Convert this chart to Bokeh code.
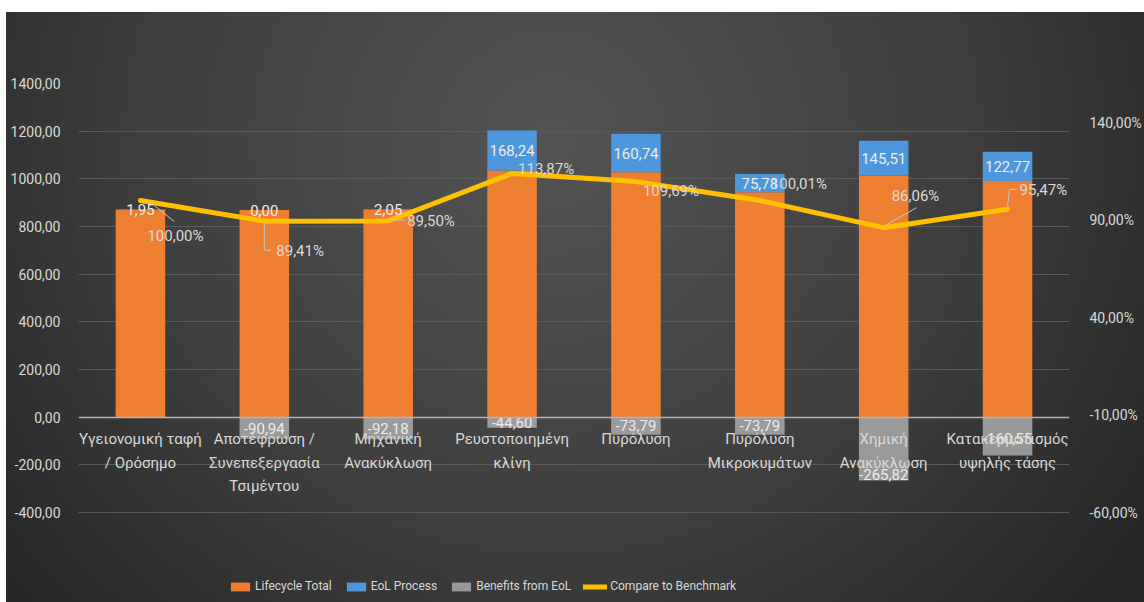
from bokeh.plotting import figure
from bokeh.models import (FactorRange, Range1d, LinearAxis, FixedTicker,
                          CustomJSTickFormatter, ColumnDataSource, Legend, LegendItem)
from bokeh.core.properties import value
from bokeh.embed import file_html
from bokeh.resources import INLINE

# ---- data -------------------------------------------------------------
categories = [
    "Υγειονομική ταφή\n/ Ορόσημο",
    "Αποτέφρωση /\nΣυνεπεξεργασία\nΤσιμέντου",
    "Μηχανική\nΑνακύκλωση",
    "Ρευστοποιημένη\nκλίνη",
    "Πυρόλυση",
    "Πυρόλυση\nΜικροκυμάτων",
    "Χημική\nΑνακύκλωση",
    "Κατακερματισμός\nυψηλής τάσης",
]
lifecycle_total = [870, 869, 871, 1035, 1028, 944, 1014, 991]
eol_process = [1.95, 0.00, 2.05, 168.24, 160.74, 75.78, 145.51, 122.77]
benefits_eol = [None, -90.94, -92.18, -44.60, -73.79, -73.79, -265.82, -160.55]
benchmark_pct = [100.00, 89.41, 89.50, 113.87, 109.69, 100.01, 86.06, 95.47]

left_ticks = [-400, -200, 0, 200, 400, 600, 800, 1000, 1200, 1400]
right_ticks = [-60, -10, 40, 90, 140]

# ---- styling / placement ---------------------------------------------
ORANGE = "#EE7E30"
BLUE = "#4E97DC"
GRAY = "#AAAAAA"
YELLOW = "#FFC000"
TXT = "#D9D9D9"
FONT = "Roboto"

W, H = 1138, 590
B_LEFT, B_RIGHT, B_TOP, B_BOTTOM = 72, 71, 71, 0
PLOT_H = 429                      # height of the gridded area (-400 .. 1400)
FRAME_W = W - B_LEFT - B_RIGHT
FRAME_H = H - B_TOP - B_BOTTOM
EXTRA_PX = FRAME_H - PLOT_H       # room under the grid for the legend
PCT_LO, PCT_HI = -60, 160

px_per_unit = PLOT_H / (left_ticks[-1] - left_ticks[0])
px_per_pct = PLOT_H / (PCT_HI - PCT_LO)
px_per_cat = FRAME_W / len(categories)
y_lo = left_ticks[0] - EXTRA_PX / px_per_unit
pct_lo = PCT_LO - EXTRA_PX / px_per_pct

# nudges (screen px) for the value labels and leader lines
pct_label_offsets = [(7, 35), (12, 30), (19, 0), (6, -4), (7, 9), (11, -16), (8, -32), (12, -19)]
ben_label_dy = [0, 0, 0, 0, 0, 0, 26, 2]
leaders = {
    0: [(14, 5), (34, 21)],
    1: [(0, 3), (0, 29), (7, 29)],
    2: [(3, -1), (17, -1)],
    6: [(1, -2), (33, -20)],
    7: [(0, -3), (2, -20), (9, -20)],
}


def fmt(v):
    return f"{v:.2f}".replace(".", ",")


nan = float("nan")
eol_top = [t + e for t, e in zip(lifecycle_total, eol_process)]
ben_vals = [nan if b is None else b for b in benefits_eol]

bars = ColumnDataSource(dict(
    cat=categories,
    total=lifecycle_total,
    eol_top=eol_top,
    eol_mid=[t + e / 2 for t, e in zip(lifecycle_total, eol_process)],
    eol_txt=[fmt(e) for e in eol_process],
    ben=ben_vals,
))

ben_idx = [i for i, b in enumerate(benefits_eol) if b is not None]
ben_src = ColumnDataSource(dict(
    cat=[categories[i] for i in ben_idx],
    mid=[benefits_eol[i] / 2 for i in ben_idx],
    txt=[fmt(benefits_eol[i]) for i in ben_idx],
    dy=[ben_label_dy[i] for i in ben_idx],
))

line_src = ColumnDataSource(dict(
    cat=categories,
    pct=benchmark_pct,
    txt=[fmt(v) + "%" for v in benchmark_pct],
    dx=[o[0] for o in pct_label_offsets],
    dy=[o[1] for o in pct_label_offsets],
))

lead_xs, lead_ys = [], []
for i, pts in leaders.items():
    lead_xs.append([i + 0.5 + dx / px_per_cat for dx, dy in pts])
    lead_ys.append([benchmark_pct[i] - dy / px_per_pct for dx, dy in pts])

# ---- figure -----------------------------------------------------------
p = figure(
    width=W, height=H,
    x_range=FactorRange(*categories),
    y_range=Range1d(y_lo, left_ticks[-1]),
    output_backend="svg", toolbar_location=None, title=None,
    min_border_left=B_LEFT, min_border_right=B_RIGHT,
    min_border_top=B_TOP, min_border_bottom=B_BOTTOM,
)
p.extra_y_ranges = {"pct": Range1d(pct_lo, PCT_HI)}

p.background_fill_alpha = 0
p.border_fill_alpha = 0
p.outline_line_color = None
p.styles = {
    "margin-left": "6px",
    "margin-top": "12px",
    "background": "radial-gradient(ellipse 62% 115% at 48% 22%, #535353 0%, #3e3e3e 58%, #272727 100%)",
}

# grid
p.xgrid.grid_line_color = None
p.ygrid.grid_line_color = "#5A5A5A"
p.ygrid.grid_line_width = 1

# left axis
p.yaxis.ticker = FixedTicker(ticks=left_ticks)
p.yaxis.formatter = CustomJSTickFormatter(code="return tick.toFixed(2).replace('.', ',');")
p.yaxis.axis_line_color = None
p.yaxis.major_tick_line_color = None
p.yaxis.minor_tick_line_color = None
p.yaxis.major_label_standoff = 12
p.yaxis.major_label_text_color = TXT
p.yaxis.major_label_text_font = FONT
p.yaxis.major_label_text_font_size = "14px"

# right axis
raxis = LinearAxis(
    y_range_name="pct",
    ticker=FixedTicker(ticks=right_ticks),
    formatter=CustomJSTickFormatter(code="return tick.toFixed(2).replace('.', ',') + '%';"),
    axis_line_color=None, major_tick_line_color=None, minor_tick_line_color=None,
    major_label_standoff=14, major_label_text_color=TXT,
    major_label_text_font=FONT, major_label_text_font_size="14px",
)
p.add_layout(raxis, "right")

# category axis sitting on the zero line
p.xaxis.fixed_location = 0
p.xaxis.axis_line_color = "#B4B4B4"
p.xaxis.axis_line_width = 1.5
p.xaxis.major_tick_line_color = None
p.xaxis.minor_tick_line_color = None
p.xaxis.major_label_standoff = 7
p.xaxis.major_label_text_color = TXT
p.xaxis.major_label_text_font = FONT
p.xaxis.major_label_text_font_size = "15px"
p.xaxis.major_label_text_line_height = 1.3
p.xaxis.major_label_orientation = "horizontal"

# bars
bw = 0.4
r_total = p.vbar(x="cat", bottom=0, top="total", width=bw, source=bars,
                 fill_color=ORANGE, line_color=None)
r_eol = p.vbar(x="cat", bottom="total", top="eol_top", width=bw, source=bars,
               fill_color=BLUE, line_color=None)
r_ben = p.vbar(x="cat", bottom=0, top="ben", width=bw, source=bars,
               fill_color=GRAY, fill_alpha=0.85, line_color=None)

# benchmark line
r_line = p.line(x="cat", y="pct", source=line_src, y_range_name="pct",
                line_color=YELLOW, line_width=5, line_join="round", line_cap="round")
p.multi_line(lead_xs, lead_ys, y_range_name="pct", line_color="#C8C8C8", line_width=1)

# value labels
p.text(x="cat", y="eol_mid", text="eol_txt", source=bars,
       text_align="center", text_baseline="middle",
       text_color="#EDEDED", text_font=value(FONT), text_font_size="15px")
p.text(x="cat", y="mid", text="txt", source=ben_src, y_offset="dy",
       text_align="center", text_baseline="middle",
       text_color="#EDEDED", text_font=value(FONT), text_font_size="15px")
p.text(x="cat", y="pct", text="txt", source=line_src, y_range_name="pct",
       x_offset="dx", y_offset="dy",
       text_align="left", text_baseline="middle",
       text_color=TXT, text_font=value(FONT), text_font_size="15px")

# legend under the grid
legend = Legend(
    items=[
        LegendItem(label="Lifecycle Total", renderers=[r_total]),
        LegendItem(label="EoL Process", renderers=[r_eol]),
        LegendItem(label="Benefits from EoL", renderers=[r_ben]),
        LegendItem(label="Compare to Benchmark", renderers=[r_line]),
    ],
    orientation="horizontal", location=(150, 9),
    background_fill_alpha=0, border_line_alpha=0,
    label_text_color=TXT, label_text_font=FONT, label_text_font_size="12px",
    glyph_width=24, glyph_height=11, spacing=12, label_standoff=3,
    padding=0, margin=0,
)
p.add_layout(legend)

open("out.html", "w").write(file_html(p, INLINE))
